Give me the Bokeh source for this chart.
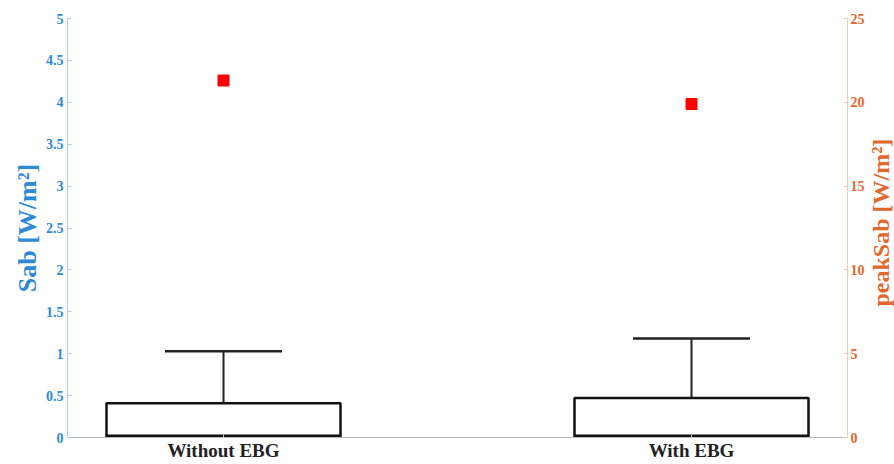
import math
from bokeh.plotting import figure
from bokeh.layouts import row
from bokeh.models import Range1d, LinearAxis, FixedTicker, ColumnDataSource, Label
from bokeh.embed import file_html
from bokeh.resources import INLINE

# Box statistics of Sab per configuration
categories = ["Without EBG", "With EBG"]
positions = [1, 2]
q1 = [0.01, 0.01]
median = [0.02, 0.02]
q3 = [0.41, 0.47]
upper_whisker = [1.03, 1.18]

# Peak Sab per configuration (right axis)
peak_sab = [21.3, 19.9]

left_ticks = [0, 0.5, 1, 1.5, 2, 2.5, 3, 3.5, 4, 4.5, 5]
left_tick_labels = ["0", "0.5", "1", "1.5", "2", "2.5", "3", "3.5", "4", "4.5", "5"]
right_ticks = [0, 5, 10, 15, 20, 25]
right_tick_labels = ["0", "5", "10", "15", "20", "25"]

BLUE = "#2f8ad6"
BLUE_LINE = "#a9d0ef"
ORANGE = "#e2672c"
ORANGE_LINE = "#f6cbb6"
SERIF = "Liberation Serif"

box_width = 0.5
cap_width = 0.25

x_lo, x_hi = 2 / 3, 7 / 3

p = figure(width=867, height=464, output_backend="svg", toolbar_location=None,
           x_range=Range1d(x_lo, x_hi), y_range=Range1d(0, 5),
           y_axis_location=None,
           min_border_left=67, min_border_right=20,
           min_border_top=18, min_border_bottom=27)
p.outline_line_color = None
p.xgrid.grid_line_color = None
p.ygrid.grid_line_color = None
p.background_fill_color = "white"
p.border_fill_color = "white"

# Left axis: Sab
left = LinearAxis(ticker=FixedTicker(ticks=left_ticks),
                  major_label_overrides={t: s for t, s in zip(left_ticks, left_tick_labels)})
left.axis_label = "Sab [W/m²]"
left.axis_label_text_font = SERIF
left.axis_label_text_font_style = "bold"
left.axis_label_text_font_size = "26px"
left.axis_label_text_color = BLUE
left.axis_label_standoff = 1
left.major_label_text_font = SERIF
left.major_label_text_font_style = "bold"
left.major_label_text_font_size = "14px"
left.major_label_text_color = BLUE
left.axis_line_color = BLUE_LINE
left.major_tick_line_color = BLUE_LINE
left.major_tick_in = 4
left.major_tick_out = 0
left.minor_tick_line_color = None
left.major_label_standoff = 4
p.add_layout(left, "left")

# Right axis: peakSab
p.extra_y_ranges = {"peak": Range1d(0, 25)}
right = LinearAxis(y_range_name="peak", ticker=FixedTicker(ticks=right_ticks),
                   major_label_overrides={t: s for t, s in zip(right_ticks, right_tick_labels)})
right.major_label_text_font = SERIF
right.major_label_text_font_style = "bold"
right.major_label_text_font_size = "14px"
right.major_label_text_color = ORANGE
right.axis_line_color = ORANGE_LINE
right.major_tick_line_color = ORANGE_LINE
right.major_tick_in = 4
right.major_tick_out = 0
right.minor_tick_line_color = None
right.major_label_standoff = 3
p.add_layout(right, "right")

# Bottom category axis
xa = p.xaxis[0]
xa.ticker = FixedTicker(ticks=positions)
xa.major_label_overrides = {pos: c for pos, c in zip(positions, categories)}
xa.major_label_text_font = SERIF
xa.major_label_text_font_style = "bold"
xa.major_label_text_font_size = "19px"
xa.major_label_text_color = "#222222"
xa.axis_line_color = "#bbbbbb"
xa.major_tick_line_color = "#cccccc"
xa.major_tick_in = 3
xa.major_tick_out = 0
xa.minor_tick_line_color = None
xa.major_label_standoff = 2

src = ColumnDataSource(dict(x=positions, q1=q1, med=median, q3=q3, up=upper_whisker,
                            cap_l=[x - cap_width / 2 for x in positions],
                            cap_r=[x + cap_width / 2 for x in positions],
                            box_l=[x - box_width / 2 for x in positions],
                            box_r=[x + box_width / 2 for x in positions],
                            peak=peak_sab))

# Whisker stems and caps
p.segment(x0="x", y0="q3", x1="x", y1="up", source=src, line_color="#222222", line_width=2)
p.segment(x0="cap_l", y0="up", x1="cap_r", y1="up", source=src, line_color="#222222", line_width=2.5)
# Boxes
p.quad(left="box_l", right="box_r", bottom="q1", top="q3", source=src,
       fill_color="white", line_color="#111111", line_width=2.5)
# Medians
p.segment(x0="box_l", y0="med", x1="box_r", y1="med", source=src, line_color="#111111", line_width=2.5)

# Peak values
p.scatter(x="x", y="peak", source=src, y_range_name="peak", marker="square",
          size=11, fill_color="#ff0000", line_color="#ff0000")

# Narrow strip holding the right axis title, reading bottom-to-top
strip_w, strip_h = 27, 464
t = figure(width=strip_w, height=strip_h, output_backend="svg", toolbar_location=None,
           x_range=Range1d(0, strip_w), y_range=Range1d(0, strip_h),
           x_axis_location=None, y_axis_location=None,
           min_border=0, min_border_left=0, min_border_right=0,
           min_border_top=0, min_border_bottom=0)
t.outline_line_color = None
t.xgrid.grid_line_color = None
t.ygrid.grid_line_color = None
t.add_layout(Label(x=13.5, y=238, text="peakSab [W/m²]", angle=math.pi / 2,
                   text_align="center", text_baseline="middle",
                   text_font=SERIF, text_font_style="bold", text_font_size="24px",
                   text_color=ORANGE))

layout = row(p, t, spacing=0)

open("out.html", "w").write(file_html(layout, INLINE))
